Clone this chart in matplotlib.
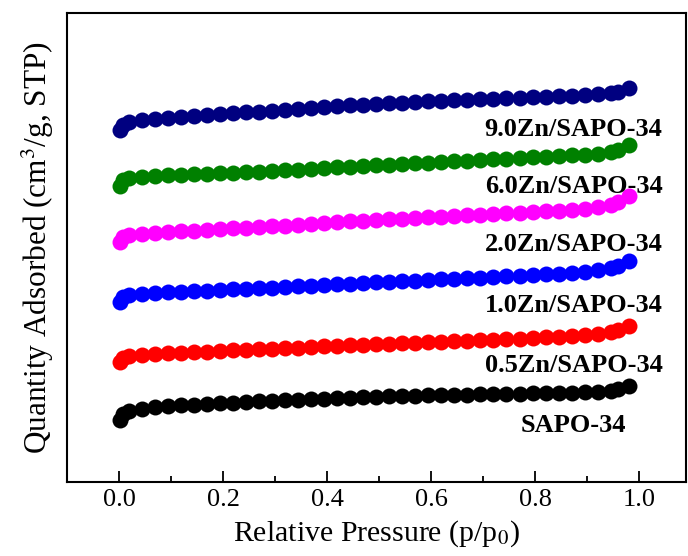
import matplotlib
matplotlib.use("Agg")
from matplotlib import pyplot as plt
from matplotlib.ticker import MultipleLocator

plt.rcParams['font.family'] = ['Liberation Serif', 'DejaVu Serif']
plt.rcParams['mathtext.fontset'] = 'stix'

# relative pressure points (shared by all isotherms)
p = [0.002, 0.008, 0.02, 0.045, 0.07, 0.095, 0.12, 0.145, 0.17, 0.195,
     0.22, 0.245, 0.27, 0.295, 0.32, 0.345, 0.37, 0.395, 0.42, 0.445,
     0.47, 0.495, 0.52, 0.545, 0.57, 0.595, 0.62, 0.645, 0.67, 0.695,
     0.72, 0.745, 0.77, 0.795, 0.82, 0.845, 0.87, 0.895, 0.92, 0.945,
     0.96, 0.98]

# quantity adsorbed (offset, arbitrary units)
q_sapo = [62, 68, 71, 73, 75, 76, 77, 77.5, 78, 79, 79.5, 80, 81, 81.5, 82,
          82.5, 83, 83.5, 84, 84.5, 85, 85.5, 86, 86, 86.5, 87, 87, 87.5,
          87.5, 88, 88, 88.5, 88.5, 89, 89, 89.5, 89.5, 90, 90.5, 91, 92.5, 96]
q_05 = [120, 124, 126, 127, 128, 128.5, 129, 129.5, 130, 131, 131.5, 132,
        132.5, 133, 133.5, 134, 135, 135.5, 136, 136.5, 137, 137.5, 138,
        138.5, 139, 139.5, 140, 140.5, 141, 141.5, 142, 142.5, 143, 144,
        144.5, 145, 146, 147, 148, 150, 152, 156]
q_10 = [180, 185, 187, 188, 189, 189.5, 190, 190.5, 191, 192, 192.5, 193,
        193.5, 194, 195, 195.5, 196, 197, 197.5, 198, 199, 199.5, 200,
        200.5, 201, 202, 202.5, 203, 203.5, 204, 205, 205.5, 206, 207,
        207.5, 208, 209, 210, 211.5, 213.5, 216, 221]
q_20 = [240, 245, 247, 248, 249, 250, 250.5, 251, 252, 253, 253.5, 254, 255,
        255.5, 256, 257, 258, 259, 260, 260.5, 261, 262, 262.5, 263, 264,
        264.5, 265, 266, 266.5, 267, 268, 268.5, 269, 270, 270.5, 271, 272,
        273, 274.5, 277, 280, 286]
q_60 = [296, 302, 304, 305, 306, 306.5, 307, 307.5, 308, 309, 309, 309.5,
        310, 311, 311.5, 312, 313, 314, 315, 315, 316, 316.5, 317, 317.5,
        318.5, 319, 320, 320.5, 321, 322, 322.5, 323, 324, 324.5, 325, 326,
        326.5, 327, 328, 330, 332, 337]
q_90 = [352, 357, 360, 362, 363, 364, 365, 366, 367, 368, 369, 369.5, 370,
        371, 372, 373, 374, 375, 376, 376.5, 377, 378, 378.5, 379, 380,
        380.5, 381, 381.5, 382, 382.5, 383, 383.5, 384, 384.5, 385, 385.5,
        386, 387, 387.5, 389, 390, 394]

labels = ['SAPO-34', '0.5Zn/SAPO-34', '1.0Zn/SAPO-34', '2.0Zn/SAPO-34',
          '6.0Zn/SAPO-34', '9.0Zn/SAPO-34']
colors = ['black', 'red', 'blue', 'magenta', 'green', 'navy']
series = [q_sapo, q_05, q_10, q_20, q_60, q_90]
label_pos = [(0.975, 57), (1.045, 116), (1.045, 176), (1.045, 237),
             (1.045, 295), (1.045, 352)]

fig = plt.figure(figsize=(6.88, 5.56), dpi=100)
ax = fig.add_axes([0.0974, 0.133, 0.8996, 0.844])

for q, c in zip(series, colors):
    ax.plot(p, q, '-o', color=c, lw=1, markersize=11.5, markeredgewidth=0)

for lab, (x, y) in zip(labels, label_pos):
    ax.text(x, y, lab, ha='right', va='center', fontsize=19,
            fontweight='bold')

ax.set_xlim(-0.1, 1.09)
ax.set_ylim(0, 469)
ax.xaxis.set_minor_locator(MultipleLocator(0.1))
ax.set_xticks([0.0, 0.2, 0.4, 0.6, 0.8, 1.0])
ax.set_xticklabels(['0.0', '0.2', '0.4', '0.6', '0.8', '1.0'])
ax.set_yticks([])
ax.tick_params(axis='x', which='major', direction='in', length=8, width=1.3,
               labelsize=19, pad=5)
ax.tick_params(axis='x', which='minor', direction='in', length=4, width=1.3)
for s in ax.spines.values():
    s.set_linewidth(1.5)

ax.set_xlabel('Relative Pressure (p/p$_0$)', fontsize=21.5, labelpad=5)
ax.set_ylabel('Quantity Adsorbed (cm$^3$/g, STP)', fontsize=22.5,
              labelpad=8)

fig.savefig('out.png', dpi=100)
